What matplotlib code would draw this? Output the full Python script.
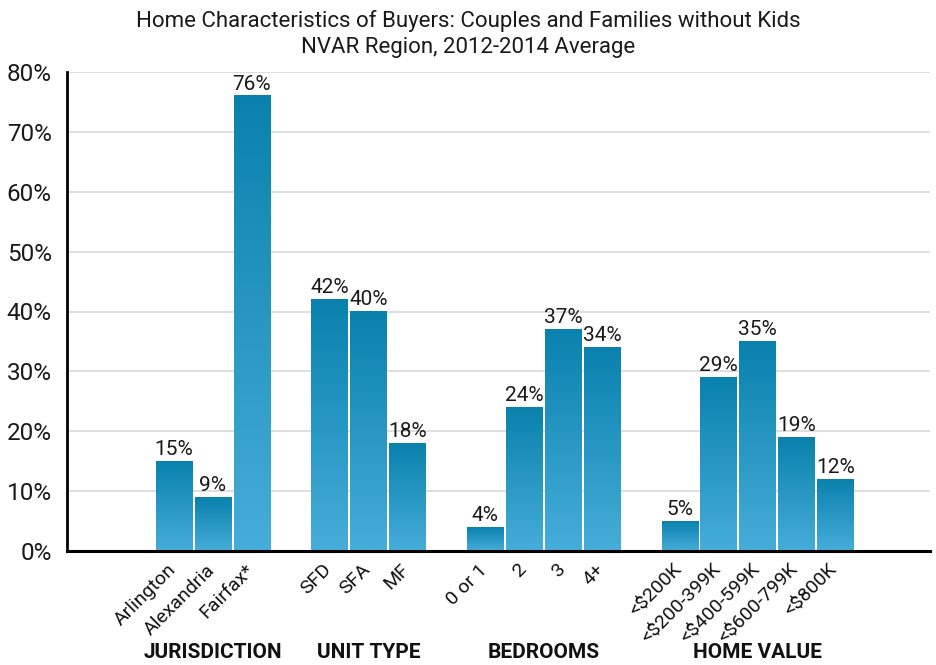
import numpy as np
import matplotlib
matplotlib.use("Agg")
import matplotlib.pyplot as plt
import matplotlib.transforms as mtransforms
from matplotlib.colors import LinearSegmentedColormap

# ---- data ----
categories = ["Arlington", "Alexandria", "Fairfax*",
              "SFD", "SFA", "MF",
              "0 or 1", "2", "3", "4+",
              "<$200K", "<$200-399K", "<$400-599K", "<$600-799K", "<$800K"]
values = [15, 9, 76,
          42, 40, 18,
          4, 24, 37, 34,
          5, 29, 35, 19, 12]
group_names = ["JURISDICTION", "UNIT TYPE", "BEDROOMS", "HOME VALUE"]
group_sizes = [3, 3, 4, 5]
yticks = [0, 10, 20, 30, 40, 50, 60, 70, 80]
title_lines = ["Home Characteristics of Buyers: Couples and Families without Kids",
               "NVAR Region, 2012-2014 Average"]

plt.rcParams['font.family'] = ["Roboto", "DejaVu Sans"]

# slot positions with one empty slot between groups
positions = []
group_centers = []
s = 0
for g in group_sizes:
    grp = list(range(s, s + g))
    positions += grp
    group_centers.append((grp[0] + grp[-1]) / 2)
    s += g + 1
positions = np.array(positions, dtype=float)

fig = plt.figure(figsize=(9.36, 6.65), dpi=100)
ax = fig.add_axes([67/936, 1 - 551/665, (930-67)/936, (551-72)/665])

width = 0.94
cmap = LinearSegmentedColormap.from_list("g", ["#47addA", "#0a81ad"])
grad = np.linspace(0, 1, 256).reshape(-1, 1)

bars = ax.bar(positions, values, width=width, color="none", edgecolor="none", zorder=2)
for b, v in zip(bars, values):
    x0 = b.get_x()
    ax.imshow(grad, cmap=cmap, origin="lower", aspect="auto",
              extent=(x0, x0 + b.get_width(), 0, v), zorder=2, interpolation="bilinear")
    ax.text(b.get_x() + b.get_width()/2, v + 0.4, f"{v}%", ha="center", va="bottom",
            fontsize=15, color="#1a1a1a")

ax.set_xlim(-2.75, 19.43)
ax.set_ylim(0, 80)
ax.set_yticks(yticks)
ax.set_yticklabels([f"{t}%" for t in yticks], fontsize=17.5, color="#1a1a1a")
ax.yaxis.grid(True, color="#d9d9d9", linewidth=1.2, zorder=0)
ax.set_axisbelow(True)
ax.tick_params(axis="y", length=0, pad=11)
ax.tick_params(axis="x", length=0, pad=7)
ax.set_xticks(positions)
ax.set_xticklabels(categories, rotation=45, ha="right", rotation_mode="anchor",
                   fontsize=14, color="#111111")
shift = mtransforms.ScaledTranslation(-7/100, 0, fig.dpi_scale_trans)
for lbl in ax.get_xticklabels():
    lbl.set_transform(lbl.get_transform() + shift)

for sp in ["top", "right"]:
    ax.spines[sp].set_visible(False)
ax.spines["left"].set_linewidth(2)
ax.spines["bottom"].set_linewidth(2.2)

for name, c in zip(group_names, group_centers):
    ax.annotate(name, xy=(c, 0), xycoords="data", xytext=(0, -102),
                textcoords="offset pixels", ha="center", va="center",
                fontsize=15, fontweight="bold", color="#111111", annotation_clip=False)

fig.text(0.5, 1 - 21/665, title_lines[0], ha="center", va="center", fontsize=16, color="#1a1a1a")
fig.text(0.5, 1 - 48/665, title_lines[1], ha="center", va="center", fontsize=16, color="#1a1a1a")

fig.savefig("out.png", dpi=100)
